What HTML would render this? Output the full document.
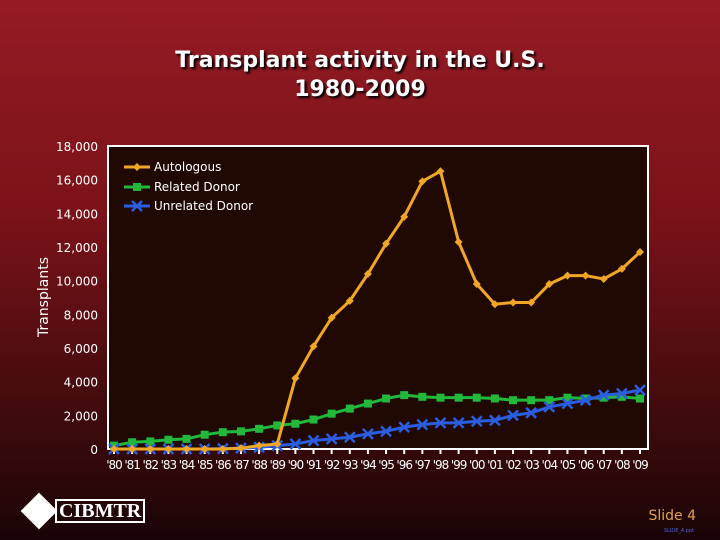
<!DOCTYPE html>
<html><head><meta charset="utf-8"><style>
html,body{margin:0;padding:0}
body{width:720px;height:540px;overflow:hidden;background:linear-gradient(to bottom,#951b24 0%,#7a1219 40%,#3a0a0c 80%,#1a0406 100%);font-family:"DejaVu Sans","Liberation Sans",sans-serif;position:relative}
.title{position:absolute;left:0;width:720px;top:46px;text-align:center;color:#fff;font-weight:bold;font-size:22px;line-height:29px;text-shadow:2px 2px 2px #000}
</style></head><body>
<div class="title">Transplant activity in the U.S.<br>1980-2009</div>
<svg id="chart" width="720" height="540" style="position:absolute;left:0;top:0"></svg>
<div style="position:absolute;left:20px;top:492px;width:38px;height:38px;">
<div style="position:absolute;left:6px;top:6px;width:26px;height:26px;background:#fff;transform:rotate(45deg)"></div></div>
<div style="position:absolute;left:55px;top:499px;border:2px solid #fff;color:#fff;font-family:'Liberation Serif',serif;font-weight:bold;font-size:20px;line-height:20px;padding:0 2px">CIBMTR</div>
<div style="position:absolute;right:24px;top:508px;color:#e0a050;font-size:14px">Slide 4</div>
<div style="position:absolute;right:26px;top:528px;color:#5060e0;font-size:5px">SLIDE_4.ppt</div>
<script>
const years=["'80","'81","'82","'83","'84","'85","'86","'87","'88","'89","'90","'91","'92","'93","'94","'95","'96","'97","'98","'99","'00","'01","'02","'03","'04","'05","'06","'07","'08","'09"];
const autologous=[0,0,0,0,0,0,0,50,200,300,4200,6100,7800,8800,10400,12200,13800,15900,16500,12300,9800,8600,8700,8700,9800,10300,10300,10100,10700,11700];
const related=[200,400,450,550,600,850,1000,1050,1200,1400,1500,1750,2100,2400,2700,3000,3200,3100,3050,3050,3050,3000,2900,2900,2900,3050,3000,3050,3100,3000];
const unrelated=[0,0,0,0,0,0,20,50,100,200,300,500,600,700,900,1050,1300,1450,1550,1550,1650,1700,2000,2150,2500,2700,2900,3200,3300,3500];
const yTicks=[0,2000,4000,6000,8000,10000,12000,14000,16000,18000];
const L=108,R=648,T=146,B=449,YMAX=18000;
const x0=114,x1=640;
const xs=i=>x0+i*(x1-x0)/(years.length-1);
const ys=v=>B-v/YMAX*(B-T);
const svg=document.getElementById('chart');
const NS='http://www.w3.org/2000/svg';
function mk(t,a){const e=document.createElementNS(NS,t);for(const k in a)e.setAttribute(k,a[k]);svg.appendChild(e);return e;}
const bg=mk('rect',{x:L,y:T,width:R-L,height:B-T,fill:'#200903',stroke:'#fff','stroke-width':2});


yTicks.forEach(v=>{
 const t=mk('text',{x:L-10,y:ys(v)+5,fill:'#fff','font-size':12,'text-anchor':'end'});
 t.textContent=v.toLocaleString('en-US');
 
 
});
years.forEach((y,i)=>{
 const tk=mk('line',{x1:xs(i),x2:xs(i),y1:B,y2:B+5,stroke:'#fff','stroke-width':2});
 
 
 const t=mk('text',{x:xs(i),y:B+20,fill:'#fff','font-size':12,'text-anchor':'middle','letter-spacing':'-1'});
 t.textContent=y;
 
 
});
const yt=mk('text',{x:48,y:297,fill:'#fff','font-size':14,'text-anchor':'middle',transform:'rotate(-90 48 297)'});
yt.textContent='Transplants';


function marker(kind,cx,cy,col){
 let e;
 if(kind==='d')e=mk('polygon',{points:`${cx},${cy-4} ${cx+4},${cy} ${cx},${cy+4} ${cx-4},${cy}`,fill:col});
 else if(kind==='s')e=mk('rect',{x:cx-4,y:cy-4,width:8,height:8,fill:col});
 else e=mk('path',{d:`M${cx-5},${cy-5}L${cx+5},${cy+5}M${cx-5},${cy+5}L${cx+5},${cy-5}`,stroke:col,'stroke-width':2.5});
 
 
}
const series=[[related,'#22b83a','s','related-donor'],[unrelated,'#2b5de0','x','unrelated-donor'],[autologous,'#f0a626','d','autologous']];
series.forEach(([d,col,k,n])=>{
 const p=mk('polyline',{points:d.map((v,i)=>xs(i)+','+ys(v)).join(' '),fill:'none',stroke:col,'stroke-width':3});
 
 
 d.forEach((v,i)=>marker(k,xs(i),ys(v),col));
});
const leg=[['Autologous','#f0a626','d',167],['Related Donor','#22b83a','s',187],['Unrelated Donor','#2b5de0','x',206]];
leg.forEach(([lab,col,k,y])=>{
 const l=mk('line',{x1:124,x2:150,y1:y,y2:y,stroke:col,'stroke-width':3});
 
 
 marker(k,137,y,col);
 const t=mk('text',{x:154,y:y+4,fill:'#fff','font-size':12});
 t.textContent=lab;
 
 
});
</script>
</body></html>
